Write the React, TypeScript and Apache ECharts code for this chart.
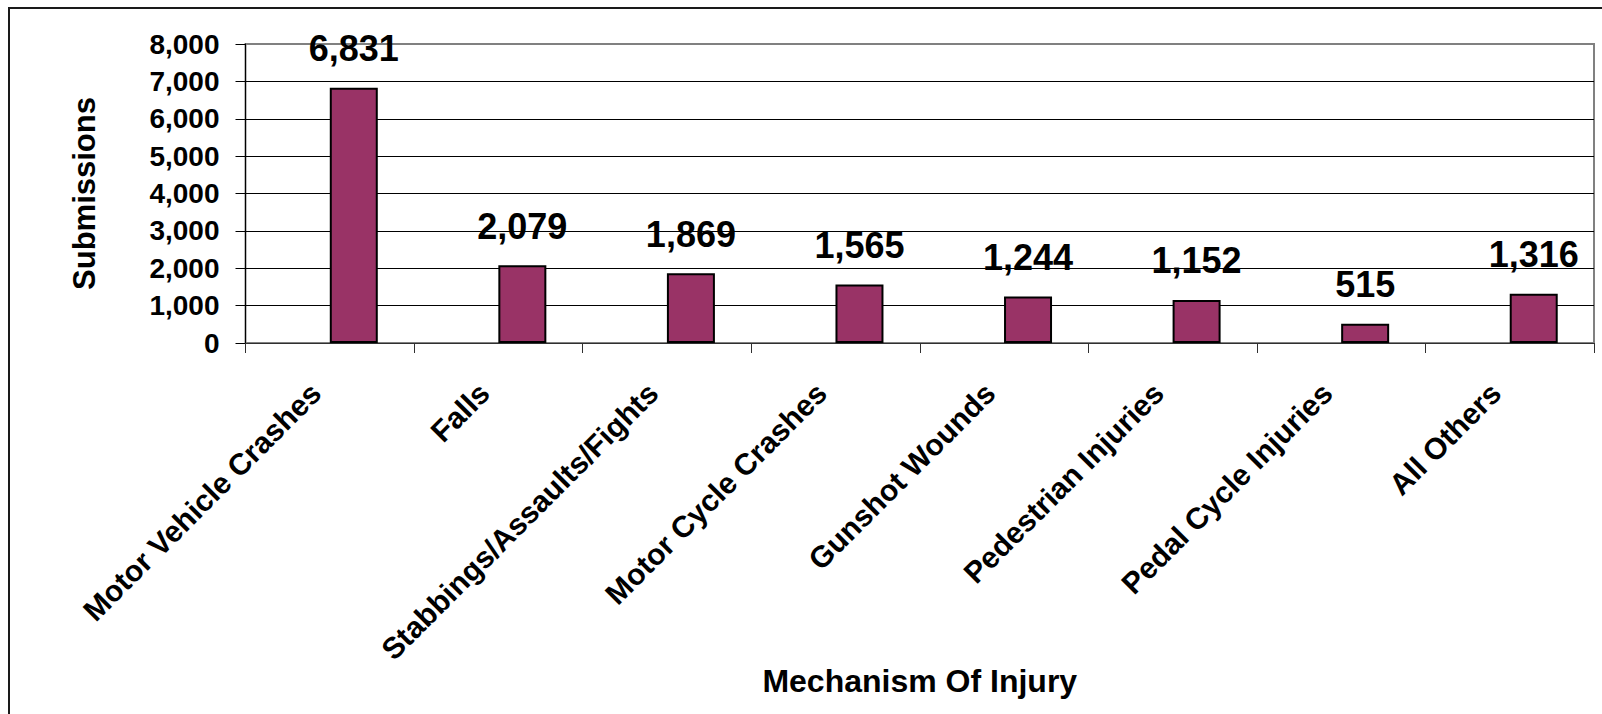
import React, { useEffect, useRef } from "react";
import * as echarts from "echarts";

const categories = [
  "Motor Vehicle Crashes",
  "Falls",
  "Stabbings/Assaults/Fights",
  "Motor Cycle Crashes",
  "Gunshot Wounds",
  "Pedestrian Injuries",
  "Pedal Cycle Injuries",
  "All Others",
];
const submissions = [6831, 2079, 1869, 1565, 1244, 1152, 515, 1316];
const yMin = 0;
const yMax = 8000;
const yStep = 1000;
const yAxisTitle = "Submissions";
const xAxisTitle = "Mechanism Of Injury";

const FONT = "'Liberation Sans', Arial, Helvetica, sans-serif";
const fmt = (v: number) => String(v).replace(/\B(?=(\d{3})+(?!\d))/g, ",");

export default function App() {
  const ref = useRef<HTMLDivElement>(null);
  useEffect(() => {
    if (!ref.current) return;
    const chart = echarts.init(ref.current, undefined, { renderer: "svg" });
    const splitColors = [];
    const nLines = (yMax - yMin) / yStep + 1;
    for (let i = 0; i < nLines; i++) splitColors.push(i === nLines - 1 ? "#808080" : "#000000");
    chart.setOption({
      animation: false,
      backgroundColor: "#ffffff",
      textStyle: { fontFamily: FONT },
      graphic: [
        {
          type: "rect",
          shape: { x: 9, y: 8, width: 1700, height: 800 },
          style: { fill: "none", stroke: "#1a1a1a", lineWidth: 2 },
          silent: true,
        },
      ],
      grid: {
        left: 245.5,
        top: 44,
        right: 8,
        bottom: 371,
        show: true,
        borderColor: "#808080",
        borderWidth: 2,
        backgroundColor: "transparent",
      },
      xAxis: {
        type: "category",
        data: categories,
        name: xAxisTitle,
        nameLocation: "middle",
        nameGap: 322,
        nameMoveOverlap: false,
        nameTextStyle: { fontSize: 32, fontWeight: "bold", color: "#000", fontFamily: FONT },
        axisLine: { lineStyle: { color: "#303030", width: 1 } },
        axisTick: { show: true, length: 10, alignWithLabel: false, lineStyle: { color: "#303030" } },
        axisLabel: {
          interval: 0,
          rotate: 45,
          margin: 31,
          fontSize: 30,
          fontWeight: "bold",
          color: "#000",
          fontFamily: FONT,
          padding: [0, 20, 39, 0],
        },
        splitLine: { show: false },
      },
      yAxis: {
        type: "value",
        min: yMin,
        max: yMax,
        interval: yStep,
        name: yAxisTitle,
        nameLocation: "middle",
        nameGap: 146,
        nameRotate: 90,
        nameMoveOverlap: false,
        nameTextStyle: { fontSize: 31, fontWeight: "bold", color: "#000", fontFamily: FONT },
        axisLine: { show: true, lineStyle: { color: "#000", width: 1 } },
        axisTick: { show: true, length: 10, lineStyle: { color: "#000" } },
        axisLabel: {
          margin: 26,
          fontSize: 28,
          fontWeight: "bold",
          color: "#000",
          fontFamily: FONT,
          formatter: (v: number) => fmt(v),
        },
        splitLine: { show: true, lineStyle: { color: splitColors, width: 1 } },
      },
      series: [
        {
          type: "bar",
          name: "placeholder",
          data: categories.map(() => "-"),
          barWidth: 48,
          barGap: "0%",
          silent: true,
        },
        {
          type: "bar",
          name: "Submissions",
          data: submissions,
          barWidth: 48,
          barGap: "0%",
          itemStyle: { color: "#993366", borderColor: "#000", borderWidth: 2 },
          label: {
            show: true,
            position: "top",
            distance: 21,
            fontSize: 36,
            fontWeight: "bold",
            color: "#000",
            fontFamily: FONT,
            formatter: (p: any) => fmt(p.value),
          },
        },
      ],
    });
    return () => chart.dispose();
  }, []);
  return (
    <div
      ref={ref}
      style={{ position: "fixed", left: 0, top: 0, width: 1602, height: 714, background: "#fff" }}
    />
  );
}
